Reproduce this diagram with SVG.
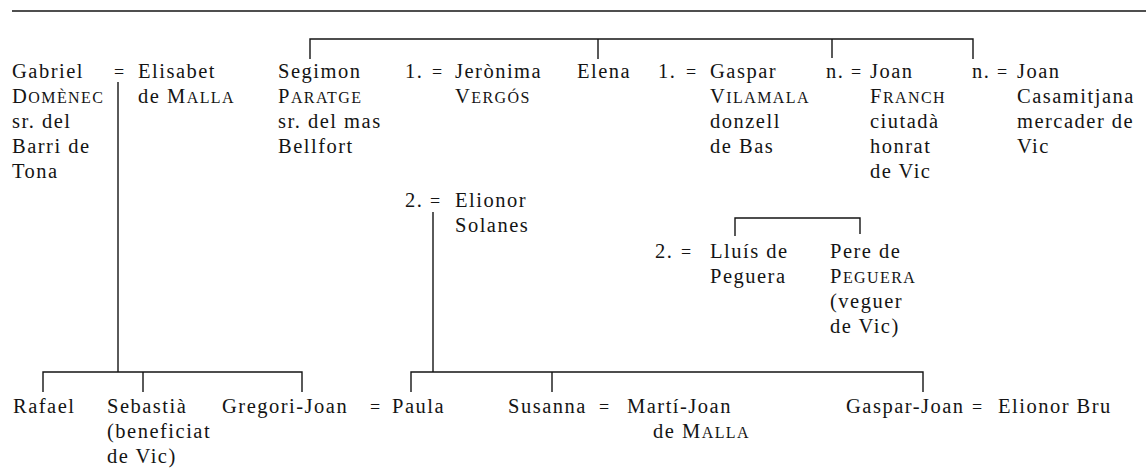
<svg xmlns="http://www.w3.org/2000/svg" width="1148" height="468" viewBox="0 0 1148 468">
<style>
.t{font-family:"Liberation Serif","DejaVu Serif",serif;font-size:20.5px;letter-spacing:1.5px;fill:#141414}
.sc{font-size:16px;letter-spacing:1.4px}
.eq{font-size:18px;letter-spacing:0}
.c{fill:none;stroke:#141414;stroke-width:1.4}
.rule{fill:none;stroke:#141414;stroke-width:1.6}
</style>
<rect width="1148" height="468" fill="#fff"/>
<path class="rule" d="M12,11 H1146"/>
<g id="connectors">
<path class="c" d="M310,59 V39 H973 V59"/>
<path class="c" d="M598,39 V59"/>
<path class="c" d="M832,39 V58"/>
<path class="c" d="M118,82 V372"/>
<path class="c" d="M43,392 V372 H302 V392"/>
<path class="c" d="M143,372 V392"/>
<path class="c" d="M433,212 V372"/>
<path class="c" d="M411,392 V372 H923 V392"/>
<path class="c" d="M552,372 V392"/>
<path class="c" d="M735,236 V218 H860 V234"/>
</g>
<g id="gabriel"><text class="t" x="12" y="78">Gabriel<tspan x="12" dy="25">D<tspan class="sc">OMÈNEC</tspan></tspan><tspan x="12" dy="25">sr. del</tspan><tspan x="12" dy="25">Barri de</tspan><tspan x="12" dy="25">Tona</tspan></text></g>
<g id="m-gabriel-elisabet"><text class="t eq" x="114" y="78">=</text></g>
<g id="elisabet"><text class="t" x="138" y="78">Elisabet<tspan x="138" dy="25">de M<tspan class="sc">ALLA</tspan></tspan></text></g>
<g id="segimon"><text class="t" x="278" y="78">Segimon<tspan x="278" dy="25">P<tspan class="sc">ARATGE</tspan></tspan><tspan x="278" dy="25">sr. del mas</tspan><tspan x="278" dy="25">Bellfort</tspan></text></g>
<g id="m-segimon-jeronima"><text class="t" x="405" y="78">1.</text><text class="t eq" x="432" y="78">=</text></g>
<g id="jeronima"><text class="t" x="455" y="78">Jerònima<tspan x="455" dy="25">V<tspan class="sc">ERGÓS</tspan></tspan></text></g>
<g id="elena"><text class="t" x="577" y="78">Elena</text></g>
<g id="m-elena-gaspar"><text class="t" x="658" y="78">1.</text><text class="t eq" x="686" y="78">=</text></g>
<g id="gaspar"><text class="t" x="710" y="78">Gaspar<tspan x="710" dy="25">V<tspan class="sc">ILAMALA</tspan></tspan><tspan x="710" dy="25">donzell</tspan><tspan x="710" dy="25">de Bas</tspan></text></g>
<g id="n1"><text class="t" x="826" y="78">n.</text><text class="t eq" x="851" y="78">=</text></g>
<g id="joan-franch"><text class="t" x="870" y="78">Joan<tspan x="870" dy="25">F<tspan class="sc">RANCH</tspan></tspan><tspan x="870" dy="25">ciutadà</tspan><tspan x="870" dy="25">honrat</tspan><tspan x="870" dy="25">de Vic</tspan></text></g>
<g id="n2"><text class="t" x="972" y="78">n.</text><text class="t eq" x="997" y="78">=</text></g>
<g id="joan-casamitjana"><text class="t" x="1017" y="78">Joan<tspan x="1017" dy="25">Casamitjana</tspan><tspan x="1017" dy="25">mercader de</tspan><tspan x="1017" dy="25">Vic</tspan></text></g>
<g id="m-segimon-elionor"><text class="t" x="405" y="207">2.</text><text class="t eq" x="430" y="207">=</text></g>
<g id="elionor-solanes"><text class="t" x="455" y="207">Elionor<tspan x="455" dy="25">Solanes</tspan></text></g>
<g id="m-elena-lluis"><text class="t" x="655" y="258">2.</text><text class="t eq" x="681" y="258">=</text></g>
<g id="lluis"><text class="t" x="710" y="258">Lluís de<tspan x="710" dy="25">Peguera</tspan></text></g>
<g id="pere"><text class="t" x="830" y="258">Pere de<tspan x="830" dy="25">P<tspan class="sc">EGUERA</tspan></tspan><tspan x="830" dy="25">(veguer</tspan><tspan x="830" dy="25">de Vic)</tspan></text></g>
<g id="rafael"><text class="t" x="13" y="413">Rafael</text></g>
<g id="sebastia"><text class="t" x="107" y="413">Sebastià<tspan x="107" dy="25">(beneficiat</tspan><tspan x="107" dy="25">de Vic)</tspan></text></g>
<g id="gregori-joan"><text class="t" x="222" y="413">Gregori-Joan</text></g>
<g id="m-gregori-paula"><text class="t eq" x="370" y="413">=</text></g>
<g id="paula"><text class="t" x="392" y="413">Paula</text></g>
<g id="susanna"><text class="t" x="508" y="413">Susanna</text></g>
<g id="m-susanna-marti"><text class="t eq" x="599" y="413">=</text></g>
<g id="marti-joan"><text class="t" x="627" y="413">Martí-Joan<tspan x="653" dy="25">de M<tspan class="sc">ALLA</tspan></tspan></text></g>
<g id="gaspar-joan"><text class="t" x="846" y="413">Gaspar-Joan</text></g>
<g id="m-gaspar-elionor"><text class="t eq" x="972" y="413">=</text></g>
<g id="elionor-bru"><text class="t" x="998" y="413">Elionor Bru</text></g>
</svg>
